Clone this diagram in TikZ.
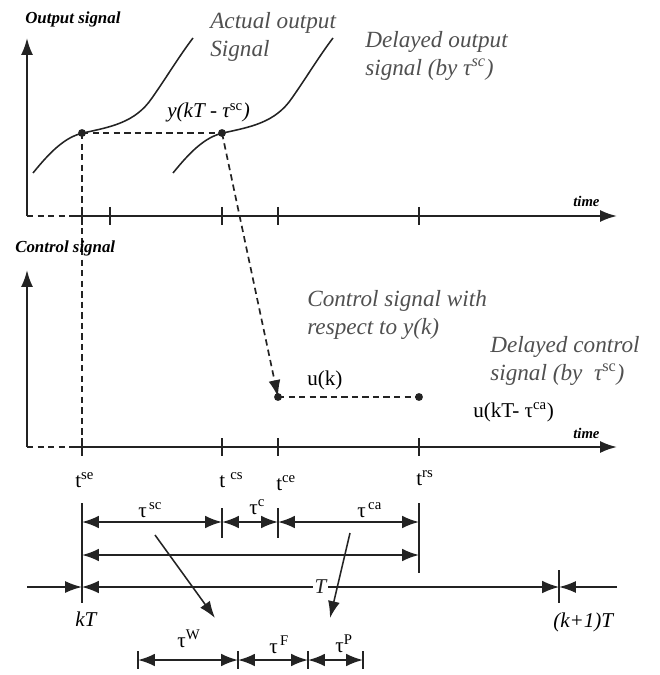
\documentclass[tikz,border=0pt]{standalone}
\usepackage{fontspec}
\setmainfont{Liberation Serif}
\usetikzlibrary{arrows.meta,calc}
\definecolor{inkGray}{RGB}{35,35,35}
\definecolor{textGray}{RGB}{80,80,80}

\begin{document}
\begin{tikzpicture}[x=0.025cm,y=-0.025cm,
    axis/.style={line width=1.5pt,inkGray},
    tck/.style={line width=1.1pt,inkGray},
    sig/.style={line width=1.1pt,inkGray},
    dashln/.style={line width=1.2pt,inkGray,dash pattern=on 4.5pt off 3pt},
    dimln/.style={line width=1.3pt,inkGray,{Latex[length=12pt,width=9pt]}-{Latex[length=12pt,width=9pt]}},
    head/.style={-{Latex[length=12pt,width=8.5pt]}},
    ttl/.style={font=\fontsize{12}{14}\selectfont\bfseries\itshape,inner sep=0pt,anchor=base west},
    tm/.style={font=\fontsize{10.5}{12}\selectfont\bfseries\itshape,inner sep=0pt,anchor=base west},
    note/.style={font=\fontsize{16.5}{20}\selectfont\itshape,text=textGray,align=left,inner sep=0pt,anchor=north west},
    lbl/.style={font=\fontsize{15}{18}\selectfont,inner sep=0pt,anchor=base west}]
\useasboundingbox (0,0) rectangle (659,675);

% time points
\coordinate (O1) at (27,216);  \coordinate (Y1) at (27,38);  \coordinate (X1) at (617,216);
\coordinate (O2) at (27,447);  \coordinate (Y2) at (27,270); \coordinate (X2) at (617,447);
\coordinate (ya) at (82,133);  \coordinate (yb) at (222,133);
\coordinate (ua) at (278,397); \coordinate (ub) at (419,397);
\coordinate (sebot) at (82,452);

% output signal panel
\draw[axis,head] (O1) -- (Y1);
\draw[axis,dash pattern=on 4.5pt off 3pt] (O1) -- (70,216);
\draw[axis,head] (70,216) -- (X1);
\foreach \x in {82,110,222,278,419} \draw[tck] (\x,207) -- (\x,225);
\node[ttl] (outtl) at (25,24) {Output signal};
\node[tm] (time1) at (573,206) {time};
\foreach \s in {0,140}
  \draw[sig,shift={(\s,0)}] (33,173) .. controls (50,152) and (65,137) .. (83,133)
    .. controls (110,127) and (135,123) .. (152,98) .. controls (166,78) and (180,55) .. (193,38);
\draw[dashln] (ya) -- (yb);
\draw[dashln] (ya) -- (sebot);
\draw[dashln,head] (yb) -- (ua);
\fill[inkGray] (ya) circle (2.8pt) (yb) circle (2.8pt);
\node[note] (actual) at (210,12) {Actual output\\Signal};
\node[note] (delout) at (365,31) {Delayed output\\signal (by τ\textsuperscript{sc})};
\node[lbl,font=\fontsize{15}{18}\selectfont\itshape] (ykt) at (167,118) {y(kT - τ\textsuperscript{\upshape sc})};

% control signal panel
\draw[axis,head] (O2) -- (Y2);
\draw[axis,dash pattern=on 4.5pt off 3pt] (O2) -- (70,447);
\draw[axis,head] (70,447) -- (X2);
\foreach \x in {82,222,278,419} \draw[tck] (\x,438) -- (\x,456);
\node[ttl] (ctltl) at (15,252) {Control signal};
\node[tm] (time2) at (573,438) {time};
\draw[dashln] (ua) -- (ub);
\fill[inkGray] (ua) circle (2.8pt) (ub) circle (2.8pt);
\node[note] (ctlwith) at (307,290) {Control signal with\\respect to y(k)};
\node[note] (delctl) at (490,336) {Delayed control\\signal (by \ τ\textsuperscript{\upshape sc})};
\node[lbl] (uk) at (307,385) {u(k)};
\node[lbl] (ukt) at (473,417) {u(kT- τ\textsuperscript{ca})};
\node[lbl] (tse) at (75,487) {t\textsuperscript{se}};
\node[lbl] (tcs) at (219,487) {t \textsuperscript{cs}};
\node[lbl] (tce) at (276,490) {t\textsuperscript{ce}};
\node[lbl] (trs) at (416,485) {t\textsuperscript{rs}};

% delay intervals
\foreach \n/\x in {se/82,cs/222,ce/278,rs/419}{
  \coordinate (a-\n) at (\x,522);
  \coordinate (b-\n) at (\x,555);
}
\coordinate (kT) at (82,587);   \coordinate (k1T) at (559,587);
\coordinate (cl) at (27,587);   \coordinate (cr) at (617,587);
\foreach \n/\x in {0/138,1/238,2/308,3/363} \coordinate (w\n) at (\x,660);

\draw[tck] (82,503) -- (82,603);
\draw[tck] (419,503) -- (419,573);
\draw[tck] (222,508) -- (222,538);
\draw[tck] (278,508) -- (278,538);
\draw[tck] (559,570) -- (559,603);
\draw[dimln] (a-se) -- (a-cs);
\draw[dimln] (a-cs) -- (a-ce);
\draw[dimln] (a-ce) -- (a-rs);
\draw[dimln] (b-se) -- (b-rs);
\draw[tck,head] (cl) -- (kT);
\draw[dimln,line width=1pt] (kT) -- node[fill=white,inner sep=1pt,font=\fontsize{15}{18}\selectfont\itshape] (Tlbl) {T} (k1T);
\draw[tck,head] (cr) -- (k1T);
\foreach \n in {0,1,2,3} \draw[tck] ($(w\n)+(0,-9)$) -- ($(w\n)+(0,9)$);
\draw[dimln] (w0) -- (w1);
\draw[dimln] (w1) -- (w2);
\draw[dimln] (w2) -- (w3);
\node[lbl] (tsc) at (138,517) {τ\textsuperscript{\,sc}};
\node[lbl] (tc) at (249,514) {τ\textsuperscript{c}};
\node[lbl] (tca) at (357,517) {τ\textsuperscript{\,ca}};
\node[lbl,font=\fontsize{15}{18}\selectfont\itshape] (kTl) at (75,626) {kT};
\node[lbl,font=\fontsize{15}{18}\selectfont\itshape] (k1Tl) at (553,627) {(k+1)T};
\node[lbl] (tW) at (177,647) {τ\textsuperscript{W}};
\node[lbl] (tF) at (269,653) {τ\textsuperscript{\,F}};
\node[lbl] (tP) at (335,652) {τ\textsuperscript{P}};
\draw[sig,head] (155,535) -- (215,618);
\draw[sig,head] (350,533) -- (330,618);
\end{tikzpicture}
\end{document}
